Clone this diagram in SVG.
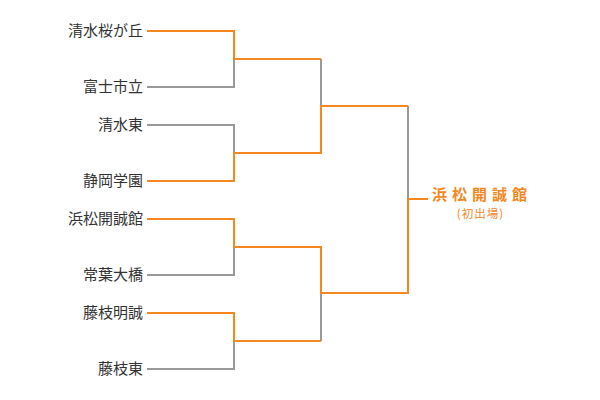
<svg xmlns="http://www.w3.org/2000/svg" width="600" height="400" viewBox="0 0 600 400">
<style>
.bg{fill:#ffffff}
.team{font-family:"Noto Sans CJK JP","Noto Sans",sans-serif;font-size:15px;fill:#333333;text-anchor:end}
.win{font-family:"Noto Sans CJK JP","Noto Sans",sans-serif;font-size:15px;font-weight:bold;fill:#f5871f;letter-spacing:5px}
.sub{font-family:"Noto Sans CJK JP","Noto Sans",sans-serif;font-size:11.5px;fill:#f5871f;letter-spacing:1px}
.lose{fill:none;stroke:#999999;stroke-width:2}
.won{fill:none;stroke:#f5871f;stroke-width:2}
</style>
<rect class="bg" x="0" y="0" width="600" height="400"/>
<g id="connectors">
  <polyline class="lose" points="147,87 234,87 234,59"/>
  <polyline class="lose" points="147,125 234,125 234,153"/>
  <polyline class="lose" points="321,59 321,106"/>
  <polyline class="lose" points="408,106 408,199"/>
  <polyline class="lose" points="147,275 234,275 234,247"/>
  <polyline class="lose" points="147,369 234,369 234,341"/>
  <polyline class="lose" points="321,341 321,293"/>
  <polyline class="won" points="147,31 234,31 234,59 321,59"/>
  <polyline class="won" points="147,181 234,181 234,153 321,153 321,106 408,106"/>
  <polyline class="won" points="147,219 234,219 234,247 321,247 321,293 408,293 408,199 428,199"/>
  <polyline class="won" points="147,313 234,313 234,341 321,341"/>
</g>
<g id="team1"><text class="team" x="143" y="36">清水桜が丘</text></g>
<g id="team2"><text class="team" x="143" y="92">富士市立</text></g>
<g id="team3"><text class="team" x="143" y="130">清水東</text></g>
<g id="team4"><text class="team" x="143" y="186">静岡学園</text></g>
<g id="team5"><text class="team" x="143" y="224">浜松開誠館</text></g>
<g id="team6"><text class="team" x="143" y="280">常葉大橋</text></g>
<g id="team7"><text class="team" x="143" y="318">藤枝明誠</text></g>
<g id="team8"><text class="team" x="143" y="374">藤枝東</text></g>
<g id="champion">
  <text class="win" x="432" y="200">浜松開誠館</text>
  <text class="sub" x="480.5" y="217.5" text-anchor="middle">(初出場)</text>
</g>
</svg>
